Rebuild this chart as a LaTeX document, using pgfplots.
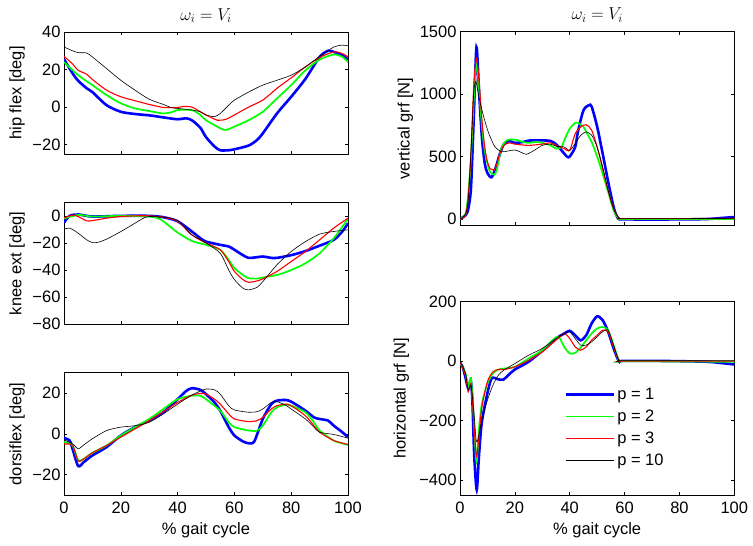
\documentclass[border=0pt]{standalone}
\usepackage{fontspec}
\setmainfont{Liberation Sans}
\usepackage{pgfplots}
\pgfplotsset{compat=1.18}
\definecolor{mblue}{rgb}{0,0,1}
\definecolor{mgreen}{rgb}{0,1,0}
\definecolor{mred}{rgb}{1,0,0}
\pgfplotsset{
  myaxis/.style={
    scale only axis,
    anchor=south west,
    font=\fontsize{16.5bp}{19bp}\selectfont,
    tick label style={font=\fontsize{16.5bp}{19bp}\selectfont},
    /pgf/number format/assume math mode=true,
    tick align=inside,
    major tick length=3bp,
    axis line style={line width=0.6bp},
    every tick/.style={black, line width=0.6bp},
    xmin=0, xmax=100,
    xtick={0,20,40,60,80,100},
    xticklabel style={yshift=-3.5bp},
    xlabel style={at={(axis description cs:0.5,0)}, anchor=base, yshift=-39bp},
    title style={at={(axis description cs:0.5,1)}, anchor=base, yshift=6bp, font=\fontsize{17bp}{20bp}\selectfont},
    every axis plot/.append style={smooth, tension=0.45},
    legend image code/.code={\draw[##1, sharp plot] (0bp,0bp) -- (48bp,0bp);},
  },
}
\begin{document}
\begin{tikzpicture}
\useasboundingbox (0,0) rectangle (753bp,546bp);

% ---------------- hip flex
\begin{axis}[myaxis, at={(64bp,392bp)}, width=284bp, height=122bp,
  ymin=-25, ymax=40, ytick={-20,0,20,40}, yticklabels={−20,0,20,40},
  xticklabels={}, title={$\omega_i = V_i$},
  ylabel={hip flex [deg]}, ylabel style={at={(axis description cs:-0.1655,0.5)}, anchor=center}]
\addplot[color=mblue, line width=2.6bp] coordinates {(0,25.5)(3,18)(5,14)(8,10)(10,8)(15,1)(20,-2.5)(25,-3.7)(30,-4.4)(35,-5.5)(40,-6.5)(43,-6)(45,-7)(48,-11)(50,-16)(53,-21)(55,-23)(58,-23)(60,-22.5)(65,-20.5)(68,-17.5)(70,-14)(75,-3.4)(80,5.5)(85,15)(90,26.7)(93,30)(95,29.4)(98,27.6)(100,25.3)};
\addplot[color=mgreen, line width=1.7bp] coordinates {(0,24)(5,17)(10,11.7)(15,6.4)(20,2)(25,-0.7)(30,-2.1)(35,-3.4)(38,-2.7)(40,-1.6)(45,-1.6)(48,-4.2)(50,-7)(55,-11.3)(57,-12.2)(60,-10.4)(65,-7)(70,-2.5)(75,4.6)(80,11.7)(85,19.6)(90,25.3)(95,28)(98,26.7)(100,24)};
\addplot[color=mred, line width=1.1bp] coordinates {(0,27)(3,23)(5,19.6)(8,17.5)(10,14.7)(15,9)(20,5.5)(25,3.4)(30,1.4)(35,-0.2)(40,-0.2)(42,0.3)(45,0)(48,-2.5)(50,-4.2)(54,-7)(57,-6.5)(60,-4.2)(65,0)(70,3.7)(75,10)(80,15.6)(85,21.4)(90,26.4)(95,29.4)(98,28.5)(100,26.7)};
\addplot[color=black, line width=0.6bp] coordinates {(0,32)(3,30)(5,29)(8,28.8)(10,26.7)(15,20.5)(20,14.3)(25,9)(30,4.2)(35,1.4)(38,-0.4)(40,-0.7)(45,-1.6)(48,-2.5)(50,-4.2)(53,-5.1)(55,-3.4)(58,1)(60,3.7)(65,8)(70,11.7)(75,14.3)(80,17)(85,21.4)(90,27)(95,32)(98,33)(100,32.6)};
\end{axis}

% ---------------- knee ext
\begin{axis}[myaxis, at={(64bp,221.7bp)}, width=284bp, height=122bp,
  ymin=-80, ymax=10, ytick={-80,-60,-40,-20,0}, yticklabels={−80,−60,−40,−20,0},
  xticklabels={},
  ylabel={knee ext [deg]}, ylabel style={at={(axis description cs:-0.1655,0.5)}, anchor=center}]
\addplot[color=mblue, line width=2.6bp] coordinates {(0,-5)(2,0)(5,1)(10,-0.5)(20,0)(30,0)(35,-1)(40,-4)(45,-11.5)(48,-16.5)(50,-19)(55,-21.4)(58,-22.6)(60,-25)(63,-29)(65,-31)(68,-30.5)(70,-30)(73,-31)(75,-31)(80,-29)(85,-26)(90,-22)(95,-17.7)(98,-11.5)(100,-5.5)};
\addplot[color=mgreen, line width=1.7bp] coordinates {(0,-2)(5,0.7)(10,-0.5)(20,0)(30,-0.5)(33,-1.7)(35,-4)(40,-12.3)(45,-18.5)(50,-21.4)(55,-25)(58,-32.5)(60,-38.6)(63,-43.6)(65,-46)(68,-46.3)(70,-45.5)(75,-43.6)(80,-40)(85,-35)(90,-27.6)(95,-16.5)(98,-8)(100,-2.2)};
\addplot[color=mred, line width=1.1bp] coordinates {(0,-1.5)(3,0.5)(5,-0.5)(8,-3.7)(10,-3.5)(15,-1.7)(20,-0.5)(25,0)(30,0)(35,-1)(40,-4)(45,-14)(50,-20)(55,-25)(58,-33.8)(60,-41)(63,-47)(65,-49)(68,-48)(70,-46.5)(75,-41)(80,-33.7)(85,-26.3)(90,-17.7)(95,-9)(100,-1.7)};
\addplot[color=black, line width=0.6bp] coordinates {(0,-10)(2,-9)(5,-12.8)(8,-17.7)(10,-19.7)(12,-19.5)(15,-17.2)(20,-11.6)(25,-5.4)(28,-1.7)(30,-0.5)(35,-1)(40,-3.4)(45,-14)(50,-20)(55,-27.6)(58,-40)(60,-47)(63,-53.4)(65,-54.6)(68,-52.7)(70,-48.5)(73,-41)(75,-36)(80,-26.3)(85,-19)(90,-13.5)(95,-11.5)(100,-10.3)};
\end{axis}

% ---------------- dorsiflex
\begin{axis}[myaxis, at={(64bp,51bp)}, width=284bp, height=122.3bp,
  ymin=-30, ymax=30, ytick={-20,0,20}, yticklabels={−20,0,20},
  xlabel={\% gait cycle},
  ylabel={dorsiflex [deg]}, ylabel style={at={(axis description cs:-0.1655,0.5)}, anchor=center}]
\addplot[color=mblue, line width=2.6bp] coordinates {(0,-2)(2,-3.3)(3,-7.3)(5,-15.8)(7,-13.8)(10,-10.6)(15,-6.5)(20,-0.8)(25,3.3)(30,6.5)(35,10.6)(40,17)(43,21)(45,22.4)(48,21.6)(50,19.5)(53,15.4)(55,11.4)(58,3.3)(60,-0.8)(63,-3.7)(65,-4.6)(67,-3.7)(70,7.3)(73,14.6)(75,16.3)(78,16.6)(80,15.8)(85,11.4)(88,8.1)(90,7.3)(93,6.5)(95,4)(98,0.8)(100,-1.6)};
\addplot[color=mgreen, line width=1.7bp] coordinates {(0,-4)(3,-5.7)(5,-13)(7,-12.2)(10,-9.3)(15,-5.7)(20,-0.8)(25,3.3)(30,7.3)(35,12.2)(40,17)(45,18.7)(48,18.7)(50,17)(55,11.4)(58,5.7)(60,3.3)(65,1.6)(68,1.6)(70,4)(73,10.6)(75,13)(78,14.3)(80,13.8)(85,10.6)(88,5.7)(90,1.6)(95,-3.3)(100,-5.4)};
\addplot[color=mred, line width=1.1bp] coordinates {(0,-5)(3,-5.7)(5,-13.3)(7,-12.2)(10,-9.3)(15,-5.7)(20,-1.6)(25,2.4)(30,6.5)(35,10.9)(40,15.4)(45,19)(48,19.8)(50,19.5)(53,17)(55,14.6)(58,9.8)(60,7.3)(65,6)(68,6.5)(70,8.1)(73,12.2)(75,13.8)(78,14.6)(80,13.8)(85,8.9)(88,4)(90,0.8)(95,-3.3)(100,-5.2)};
\addplot[color=black, line width=0.6bp] coordinates {(0,-3)(3,-4.9)(5,-7.3)(7,-5.4)(10,-2.4)(15,1.6)(20,3.3)(25,4)(30,5.7)(35,9.8)(40,14.6)(45,19)(48,21)(50,22)(53,21.6)(55,19.5)(58,13.8)(60,11.7)(65,10.6)(68,10.9)(70,12.2)(73,15.4)(75,15.8)(78,14.1)(80,12.2)(85,7.3)(88,3.3)(90,0.8)(95,-0.3)(100,-2.1)};
\end{axis}

% ---------------- vertical grf
\begin{axis}[myaxis, at={(460bp,320.7bp)}, width=274.3bp, height=193.6bp,
  ymin=-50, ymax=1500, ytick={0,500,1000,1500}, yticklabels={0,500,1000,1500},
  xticklabels={}, title={$\omega_i = V_i$},
  ylabel={vertical grf [N]}, ylabel style={at={(axis description cs:-0.199,0.5)}, anchor=center}]
\addplot[color=mblue, line width=2.6bp] coordinates {(0,0)(2,30)(3,80)(4,250)(5,800)(6,1375)(7,1000)(8,650)(9,450)(10,368)(11.5,334)(13,410)(14.5,520)(16,600)(18,625)(20,610)(23,617)(25,628)(28,630)(30,630)(33,625)(35,600)(37,550)(39,500)(40,500)(42,577)(43,700)(45,870)(47,912)(48,900)(50,740)(52,525)(54,300)(56,96)(57,30)(58,0)(60,-3)(80,-3)(90,0)(95,8)(100,16)};
\addplot[color=mgreen, line width=1.7bp] coordinates {(0,0)(2,40)(3,200)(4,500)(5,950)(6,1250)(7,1030)(8,740)(9,550)(10,445)(11,377)(12.5,355)(13.5,400)(15,560)(17,630)(20,636)(23,617)(25,610)(28,617)(30,610)(33,590)(35,564)(37,577)(38,630)(40,724)(42,770)(43,770)(45,738)(47,658)(48,617)(50,500)(52,364)(54,217)(56,70)(58,3)(60,0)(100,0)};
\addplot[color=mred, line width=1.1bp] coordinates {(0,0)(2,30)(3,176)(4,524)(5,1060)(6,1286)(7,1085)(8,790)(9,577)(10,457)(11,404)(12.5,395)(13.5,444)(14.5,524)(16,590)(18,610)(20,600)(25,590)(30,600)(33,610)(35,590)(38,564)(40,550)(42,684)(44,738)(46,755)(48,711)(50,577)(52,404)(54,230)(56,83)(58,8)(60,3)(100,5)};
\addplot[color=black, line width=0.6bp] coordinates {(0,0)(2,40)(3,150)(4,550)(5,1005)(5.8,1100)(7,965)(8.5,830)(10.3,697)(12.7,579)(15.2,540)(17.6,545)(20,553)(22,537)(24.2,518)(27.3,553)(30,590)(33,600)(35,583)(38,577)(40,550)(42,604)(44,670)(46,698)(48,671)(50,577)(52,417)(54,230)(56,83)(58,8)(60,3)(100,5)};
\end{axis}

% ---------------- horizontal grf
\begin{axis}[myaxis, at={(460bp,51bp)}, width=274.3bp, height=193.3bp,
  ymin=-450, ymax=200, ytick={-400,-200,0,200}, yticklabels={−400,−200,0,200},
  xlabel={\% gait cycle},
  ylabel={horizontal grf [N]}, ylabel style={at={(axis description cs:-0.214,0.5)}, anchor=center},
  legend style={draw=none, fill=none, at={(rel axis cs:0.37,0.575)}, anchor=north west,
    font=\fontsize{16.5bp}{19bp}\selectfont, row sep=5bp},
  legend cell align=left]
\addplot[color=mblue, line width=2.6bp] coordinates {(0,-5)(1,-20)(2,-55)(3,-92)(3.9,-64)(4.5,-131)(5.2,-320)(6.1,-432)(6.9,-320)(7.9,-209)(9.7,-120)(11.5,-58)(13.9,-61)(15.8,-62)(17.6,-47)(20,-28)(25,-2)(30,35)(35,76)(38,93)(40,102)(42,87)(44,70)(46,87)(48,127)(50,151)(52,138)(54,99)(56,43)(58,-2)(59,1)(70,1)(80,0)(90,-2)(95,-6)(100,-11)};
\addlegendentry{p = 1}
\addplot[color=mgreen, line width=1.7bp] coordinates {(0,-5)(2,-41)(3,-86)(4,-58)(5,-187)(6,-338)(7,-220)(8,-142)(10,-75)(12,-41)(14,-28)(16,-25)(20,-19)(25,9)(30,37)(34,73)(36,82)(38,48)(40,26)(42,28)(44,46)(46,70)(48,93)(50,110)(52,115)(54,104)(56,54)(58,1)(60,0)(100,-2)};
\addlegendentry{p = 2}
\addplot[color=mred, line width=1.1bp] coordinates {(0,-5)(2,-47)(3,-103)(4,-75)(5,-198)(6,-322)(7,-243)(8,-153)(10,-69)(12,-36)(14,-28)(16,-28)(20,-19)(25,3)(30,31)(35,71)(38,93)(40,76)(42,48)(44,37)(46,48)(48,71)(50,87)(52,104)(54,99)(56,48)(58,1)(60,0)(100,0)};
\addlegendentry{p = 3}
\addplot[color=black, line width=0.6bp] coordinates {(0,0)(2,-40)(3,-97)(4,-80)(5,-165)(6,-271)(7,-243)(8,-198)(10,-131)(12,-81)(14,-47)(16,-30)(20,-8)(25,20)(30,43)(35,76)(38,93)(40,99)(42,76)(44,54)(46,54)(48,65)(50,82)(52,99)(54,104)(56,54)(58,1)(60,2)(100,2)};
\addlegendentry{p = 10}
\end{axis}
\end{tikzpicture}
\end{document}
